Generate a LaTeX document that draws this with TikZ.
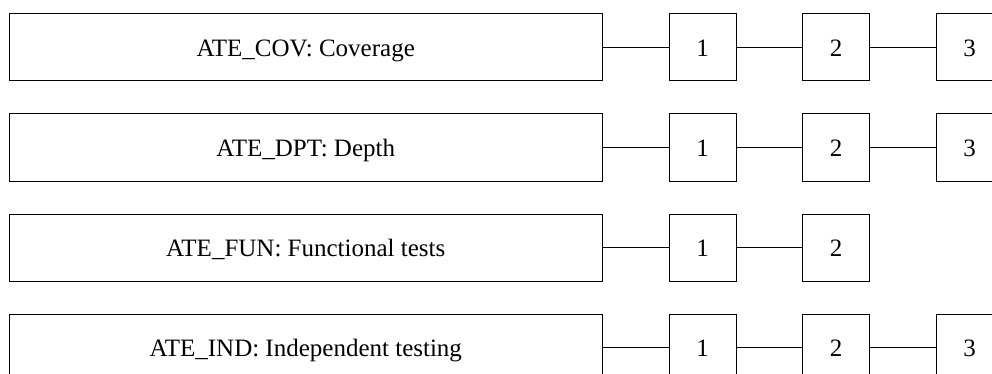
\documentclass[tikz,border=0pt]{standalone}
\usepackage{fontspec}
\setmainfont{Liberation Serif}
\usetikzlibrary{positioning}

\begin{document}
\begin{tikzpicture}[x=1pt, y=1pt]

      \tikzset{
            famBox/.style = {draw, line width=1pt, outer sep=0pt, inner sep=0pt,
                  minimum width=593.5pt, minimum height=67pt,
                  text height=18pt, text depth=0pt, font=\fontsize{25}{30}\selectfont},
            lvlBox/.style = {draw, line width=1pt, outer sep=0pt, inner sep=0pt,
                  minimum size=67pt,
                  text height=18pt, text depth=0pt, font=\fontsize{25}{30}\selectfont},
            link/.style = {line width=1pt}
      };

      % Page size (the last column is cut off)
      \useasboundingbox (0,0) rectangle (992,-374);
      \clip (0,0) rectangle (992,-374);

      % Families and their levels
      \foreach \i/\name/\n in {1/{ATE\_COV: Coverage}/3,
                              2/{ATE\_DPT: Depth}/3,
                              3/{ATE\_FUN: Functional tests}/2,
                              4/{ATE\_IND: Independent testing}/3} {
            \node[famBox, alias=lvl\i-0] (fam\i) at (305.75,{-47.5-100*(\i-1)}) {\name};
            \foreach \j [remember=\j as \k (initially 0)] in {1,...,\n} {
                  \node[lvlBox, right=66.5pt of lvl\i-\k] (lvl\i-\j) {\j};
                  \draw[link] (lvl\i-\k) -- (lvl\i-\j);
            }
      }

\end{tikzpicture}
\end{document}
